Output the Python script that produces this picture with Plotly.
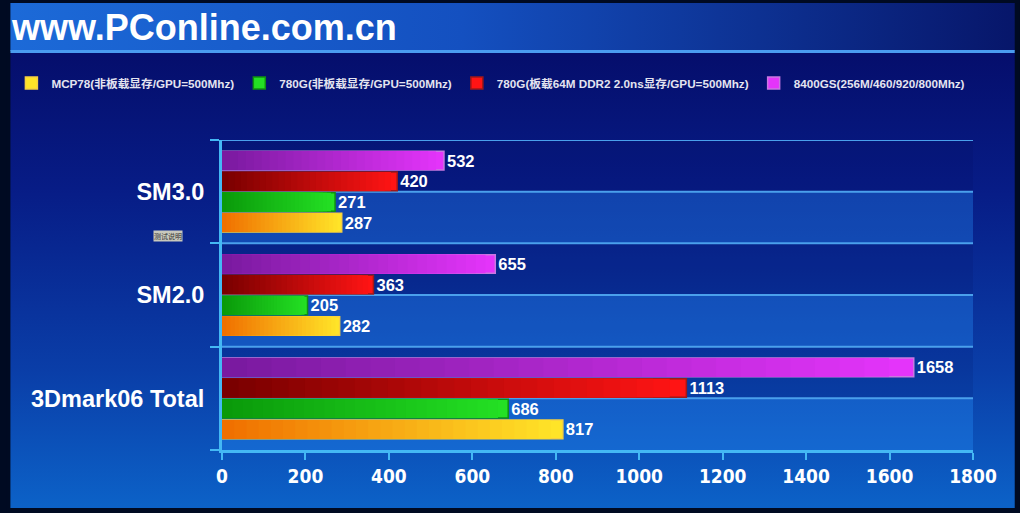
import plotly.graph_objects as go
from urllib.parse import quote

# ---------------- data ----------------
categories = ["3Dmark06 Total", "SM2.0", "SM3.0"]
series_names = [
    "MCP78(非板载显存/GPU=500Mhz)",
    "780G(非板载显存/GPU=500Mhz)",
    "780G(板载64M DDR2 2.0ns显存/GPU=500Mhz)",
    "8400GS(256M/460/920/800Mhz)",
]
mcp78 = [817, 282, 287]
g780 = [686, 205, 271]
g780_onboard = [1113, 363, 420]
gs8400 = [1658, 655, 532]
series_values = [mcp78, g780, g780_onboard, gs8400]
x_ticks = [0, 200, 400, 600, 800, 1000, 1200, 1400, 1600, 1800]

# ---------------- styles ----------------
left_colors = ["#f07000", "#0a9a0a", "#7a0000", "#7a1aa0"]
right_colors = ["#ffe428", "#24e024", "#ff1414", "#e434fa"]
edge_colors = ["#f6d040", "#109010", "#a01818", "#c878e0"]

W, H = 1020, 513
ML, MR, MT, MB = 217, 47, 140, 63
PW, PH = W - ML - MR, H - MT - MB


def px2x(px):
    return (px - ML) / PW


def py2y(py):
    return (H - MB - py) / PH


def hex2rgb(h):
    h = h.lstrip("#")
    return tuple(int(h[i:i + 2], 16) for i in (0, 2, 4))


def mix(c1, c2, t):
    a, b = hex2rgb(c1), hex2rgb(c2)
    return "rgb(%d,%d,%d)" % tuple(round(a[i] + (b[i] - a[i]) * t) for i in range(3))


# background svg (border, header gradient, body gradient)
svg = f"""<svg xmlns='http://www.w3.org/2000/svg' width='{W}' height='{H}' viewBox='0 0 {W} {H}' preserveAspectRatio='none'>
<defs>
<linearGradient id='hd' x1='0' y1='0' x2='1' y2='0'>
<stop offset='0' stop-color='#1c6ad8'/><stop offset='0.45' stop-color='#1450c0'/><stop offset='1' stop-color='#07166a'/>
</linearGradient>
<linearGradient id='bd' x1='0' y1='0' x2='0' y2='1'>
<stop offset='0' stop-color='#050e6c'/><stop offset='0.3' stop-color='#071c86'/><stop offset='0.7' stop-color='#0a3ea8'/><stop offset='1' stop-color='#0c62c8'/>
</linearGradient>
</defs>
<rect x='0' y='0' width='{W}' height='{H}' fill='#000a22'/>
<rect x='4' y='53' width='1011' height='455' fill='url(#bd)'/>
<rect x='4' y='3' width='1011' height='48' fill='url(#hd)'/>
<rect x='4' y='50' width='1011' height='3' fill='#4a9cf0'/>
</svg>"""
bg_src = "data:image/svg+xml;charset=utf-8," + quote(svg)

fig = go.Figure()

N = 28
for s, (name, vals) in enumerate(zip(series_names, series_values)):
    for k in range(N):
        frac = 1 - k / N
        col = mix(right_colors[s], left_colors[s], k / (N - 1))
        first = k == 0
        fig.add_trace(go.Bar(
            y=categories,
            x=[v * frac for v in vals],
            orientation="h",
            name=name,
            legendgroup=name,
            showlegend=first,
            offsetgroup=str(s),
            marker=dict(
                color=col if not first else right_colors[s],
                line=dict(width=1.5 if first else 0, color=edge_colors[s]),
            ),
            text=[str(v) for v in vals] if first else None,
            textposition="outside" if first else "none",
            textfont=dict(family="Arial, Liberation Sans, sans-serif", size=16.5, color="white", weight="bold"),
            cliponaxis=False,
            hoverinfo="skip" if not first else None,
        ))

# plot bands and gridlines
shapes = []
for i in range(3):
    shapes.append(dict(type="rect", xref="paper", yref="y", x0=0, x1=1, y0=i - 0.5, y1=i,
                       fillcolor="rgba(40,150,255,0.32)", line_width=0, layer="below"))
    shapes.append(dict(type="rect", xref="paper", yref="y", x0=0, x1=1, y0=i, y1=i + 0.5,
                       fillcolor="rgba(0,10,80,0.12)", line_width=0, layer="below"))
for j in range(1, 7):
    yv = -0.5 + 0.5 * j
    shapes.append(dict(type="line", xref="paper", yref="y", x0=0, x1=1, y0=yv, y1=yv,
                       line=dict(color="#4aa0ec", width=2), layer="below"))

fig.update_layout(
    width=W, height=H,
    margin=dict(l=ML, r=MR, t=MT, b=MB, pad=0),
    paper_bgcolor="#000a22",
    plot_bgcolor="rgba(0,0,0,0)",
    barmode="group",
    bargap=0.2,
    bargroupgap=0.1,
    template="none",
    font=dict(family="Arial, Liberation Sans, Noto Sans CJK SC, sans-serif", color="white"),
    images=[dict(source=bg_src, xref="paper", yref="paper", x=px2x(0), y=py2y(0),
                 sizex=W / PW, sizey=H / PH, xanchor="left", yanchor="top",
                 sizing="stretch", layer="below")],
    shapes=shapes,
    xaxis=dict(
        range=[0, 1800], tickvals=x_ticks, ticktext=[str(t) for t in x_ticks],
        showgrid=False, zeroline=False,
        showline=True, linecolor="#44b8f4", linewidth=3,
        ticks="outside", ticklen=7, tickwidth=2, tickcolor="#44b8f4",
        tickfont=dict(family="DejaVu Sans Condensed, Liberation Sans, sans-serif",
                      size=19, color="white", weight="bold"),
    ),
    yaxis=dict(
        type="category", categoryorder="array", categoryarray=categories,
        range=[-0.5, 2.5],
        showgrid=False, zeroline=False,
        showline=True, linecolor="#44b8f4", linewidth=3,
        ticks="outside", tickson="boundaries", ticklen=9, tickwidth=2, tickcolor="#44b8f4",
        tickfont=dict(family="Arial, Liberation Sans, sans-serif", size=23.5, color="white", weight="bold"),
        ticklabelstandoff=10,
    ),
    legend=dict(
        orientation="h", x=px2x(5), y=py2y(83), xanchor="left", yanchor="middle",
        bgcolor="rgba(0,0,0,0)",
        font=dict(family="Arial, Liberation Sans, Noto Sans CJK SC, sans-serif", size=11.7,
                  color="#e4e4f0", weight="bold"),
        itemwidth=30, traceorder="normal",
    ),
    annotations=[
        dict(text="www.PConline.com.cn", xref="paper", yref="paper", x=px2x(3), y=py2y(28),
             xanchor="left", yanchor="middle", showarrow=False,
             font=dict(family="Arial, Liberation Sans, sans-serif", size=36, color="white", weight="bold")),
        dict(text="测试说明", xref="paper", yref="paper", x=px2x(163), y=py2y(236),
             xanchor="center", yanchor="middle", showarrow=False, bgcolor="#c8c8bc",
             borderpad=0, font=dict(family="Noto Sans CJK SC, sans-serif", size=7, color="#303030")),
    ],
    showlegend=True,
)

fig.write_html(
    "out.html",
    config={"displayModeBar": False},
    post_script="document.body.style.margin='0';document.body.style.background='#000a22';",
)
